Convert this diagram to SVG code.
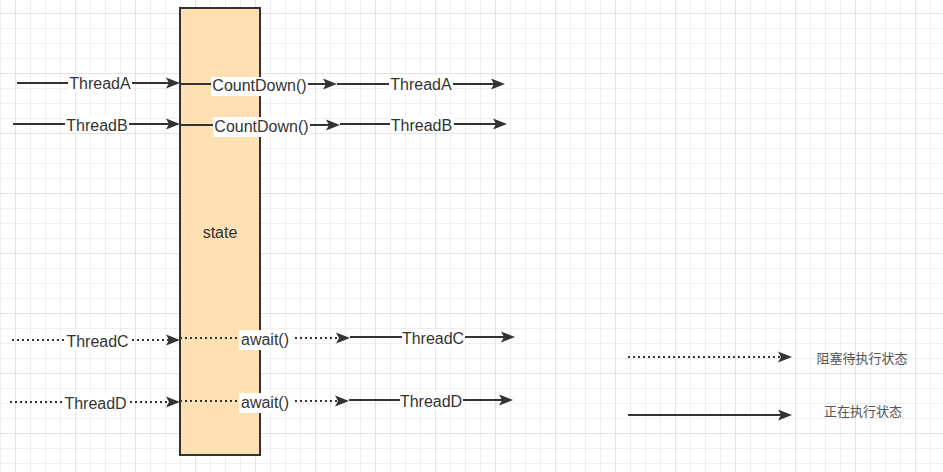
<svg xmlns="http://www.w3.org/2000/svg" width="943" height="472" viewBox="0 0 943 472">
<style>
.ln{fill:none;stroke:#333333;stroke-width:2}
.dot{stroke-dasharray:2 3}
.lb{fill:#ffffff}
.t{font-family:"Liberation Sans",Arial,sans-serif;font-size:16px;fill:#333333;text-anchor:middle}
.cj{font-family:"Noto Sans CJK SC","Liberation Sans",sans-serif;font-size:13px;fill:#555555;text-anchor:middle}
</style>
<defs>
<pattern id="grid" patternUnits="userSpaceOnUse" x="15" y="13" width="60" height="60">
<rect x="15" y="0" width="1" height="60" fill="#efefef"/>
<rect x="30" y="0" width="1" height="60" fill="#efefef"/>
<rect x="45" y="0" width="1" height="60" fill="#efefef"/>
<rect x="0" y="15" width="60" height="1" fill="#efefef"/>
<rect x="0" y="30" width="60" height="1" fill="#efefef"/>
<rect x="0" y="45" width="60" height="1" fill="#efefef"/>
<rect x="0" y="0" width="1" height="60" fill="#e3e3e3"/>
<rect x="0" y="0" width="60" height="1" fill="#e3e3e3"/>
</pattern>
<marker id="arr" markerUnits="userSpaceOnUse" markerWidth="16" markerHeight="12" refX="3" refY="5.5" orient="auto" overflow="visible">
<path d="M0,0 L14,5.5 L0,11 L3,5.5 Z" fill="#333333"/>
</marker>
</defs>
<rect x="0" y="0" width="943" height="472" fill="#ffffff"/>
<rect x="0" y="0" width="943" height="472" fill="url(#grid)"/>

<g id="state">
<rect x="180" y="8" width="80" height="447" fill="#ffe0b2" stroke="#333333" stroke-width="2"/>
<text class="t" x="220" y="238">state</text>
</g>

<g id="legend-blocked">
<path class="ln dot" d="M628,357 L781,357" marker-end="url(#arr)"/>
<text class="cj" x="862" y="363">阻塞待执行状态</text>
</g>
<g id="legend-running">
<path class="ln" d="M628,415 L781,415" marker-end="url(#arr)"/>
<text class="cj" x="863" y="416">正在执行状态</text>
</g>

<g id="connectors">
<g id="a1">
<path class="ln" d="M17,83 L169,83" marker-end="url(#arr)"/>
<rect class="lb" x="68" y="75" width="64" height="17"/>
<text class="t" x="100" y="89">ThreadA</text>
</g>
<g id="a2">
<path class="ln" d="M180,84 L326,84" marker-end="url(#arr)"/>
<rect class="lb" x="211" y="77" width="97" height="19"/>
<text class="t" x="259.5" y="91">CountDown()</text>
</g>
<g id="a3">
<path class="ln" d="M337,84 L494,84" marker-end="url(#arr)"/>
<rect class="lb" x="389" y="76" width="64" height="17"/>
<text class="t" x="421" y="90">ThreadA</text>
</g>
<g id="b1">
<path class="ln" d="M13,124 L169,124" marker-end="url(#arr)"/>
<rect class="lb" x="65" y="116" width="64" height="17"/>
<text class="t" x="97" y="131">ThreadB</text>
</g>
<g id="b2">
<path class="ln" d="M180,125 L329,125" marker-end="url(#arr)"/>
<rect class="lb" x="213" y="117" width="97" height="20"/>
<text class="t" x="261.5" y="132">CountDown()</text>
</g>
<g id="b3">
<path class="ln" d="M340,124 L496,124" marker-end="url(#arr)"/>
<rect class="lb" x="390" y="116" width="64" height="17"/>
<text class="t" x="421.5" y="131">ThreadB</text>
</g>
<g id="c1">
<path class="ln dot" d="M12,340 L169,340" marker-end="url(#arr)"/>
<rect class="lb" x="65" y="332" width="65" height="18"/>
<text class="t" x="97.5" y="347">ThreadC</text>
</g>
<g id="c2">
<path class="ln dot" d="M180,338 L339,338" marker-end="url(#arr)"/>
<rect class="lb" x="239" y="330" width="54" height="20"/>
<text class="t" x="265" y="345">await()</text>
</g>
<g id="c3">
<path class="ln" d="M350,337 L504,337" marker-end="url(#arr)"/>
<rect class="lb" x="402" y="329" width="63" height="18"/>
<text class="t" x="433" y="344">ThreadC</text>
</g>
<g id="d1">
<path class="ln dot" d="M10,402 L169,402" marker-end="url(#arr)"/>
<rect class="lb" x="63" y="394" width="65" height="18"/>
<text class="t" x="95.5" y="409">ThreadD</text>
</g>
<g id="d2">
<path class="ln dot" d="M180,401 L338,401" marker-end="url(#arr)"/>
<rect class="lb" x="239" y="393" width="54" height="20"/>
<text class="t" x="265" y="408">await()</text>
</g>
<g id="d3">
<path class="ln" d="M349,400 L502,400" marker-end="url(#arr)"/>
<rect class="lb" x="400" y="392" width="63" height="18"/>
<text class="t" x="431" y="407">ThreadD</text>
</g>
</g>
</svg>
